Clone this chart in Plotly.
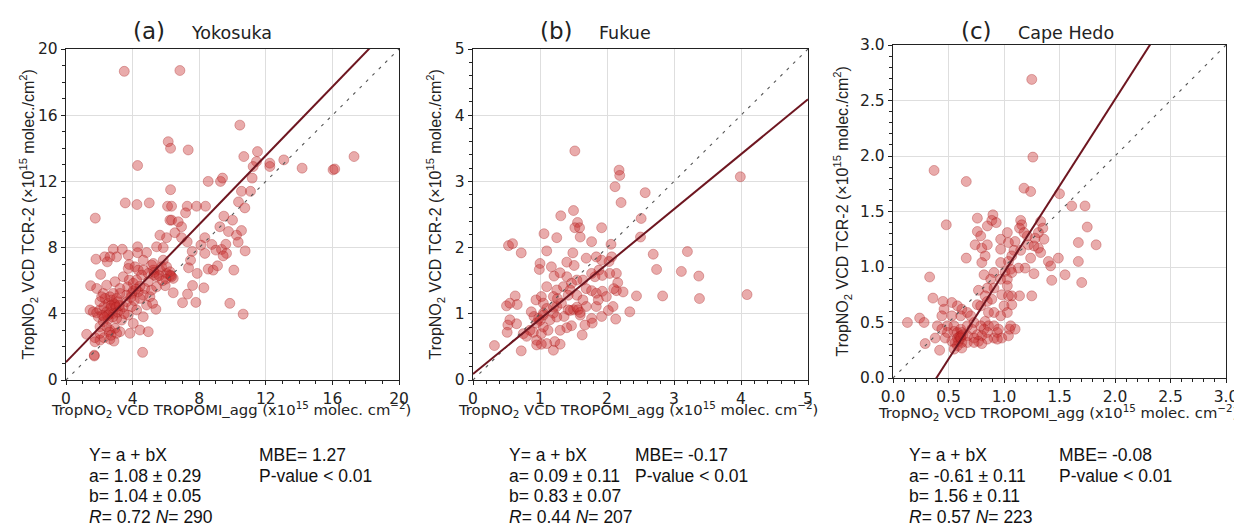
import plotly.graph_objects as go

# ---------------- data ----------------
sites = ["Yokosuka", "Fukue", "Cape Hedo"]
labels = ["(a)", "(b)", "(c)"]

xa = [3.5, 6.84, 10.44, 6.14, 6.28, 7.34, 4.3, 10.68, 11.5, 11.44, 11.24, 12.24, 12.24, 13.08, 14.18, 16.04, 16.14, 17.3,
      8.54, 9.28, 9.4, 11.18, 6.28, 11.08, 10.54, 3.56, 4.26, 5.0, 6.1, 6.34, 7.28, 7.84, 8.38, 10.36, 10.74, 1.76,
      7.18, 9.48, 10.0, 6.24, 6.34, 6.74, 6.94, 6.54, 5.64, 9.24, 9.76, 10.54, 10.24, 8.34, 6.94, 7.28, 7.58, 8.1,
      8.76, 9.0, 9.34, 9.6, 9.64, 9.44, 10.34, 10.76, 6.04, 5.44, 5.84, 8.34, 7.48, 7.36, 7.88, 8.54, 8.84, 9.1,
      10.08, 7.0, 7.8, 8.28, 7.6, 7.3, 6.44, 5.4, 9.84, 10.64, 4.6, 1.7, 1.8, 2.32, 2.84, 2.64, 3.04, 3.38, 3.74,
      4.3, 4.3, 4.84, 3.8, 4.14, 4.64, 4.64, 5.24, 5.28, 5.64, 5.44, 6.04, 6.24, 6.44, 5.84, 5.14, 4.94, 5.44, 5.96,
      4.74, 2.08, 1.48, 1.84, 2.24, 2.44, 2.94, 3.44, 3.24, 3.7, 4.04, 4.34, 4.44, 4.64, 5.04, 4.84, 5.2, 1.44,
      1.64, 1.84, 2.04, 1.94, 2.28, 2.54, 2.74, 2.94, 2.44, 2.68, 2.84, 3.14, 3.24, 3.44, 3.64, 3.94, 4.24, 3.74,
      3.34, 3.04, 2.54, 2.24, 2.04, 2.44, 2.64, 2.94, 3.24, 3.84, 4.04, 4.44, 4.94, 4.64, 1.24, 1.74, 2.04, 2.28,
      2.64, 2.88, 3.04, 2.04, 1.74, 2.48, 3.74, 4.34, 4.54, 4.94, 5.24, 5.74, 6.04, 6.24, 6.34, 3.8, 4.04, 4.24,
      4.44, 5.14, 3.94, 3.64, 3.24, 2.84, 2.64, 3.04, 2.34, 2.04, 2.14, 2.7, 2.9, 3.0, 2.6, 2.5, 2.8, 3.1, 2.2,
      2.3, 6.3, 2.6, 2.7, 1.7, 3.2, 3.5, 3.9, 4.1, 4.2, 5.3, 5.6, 6.0, 5.8]
ya = [18.65, 18.7, 15.4, 14.4, 14.0, 13.9, 12.96, 13.5, 13.8, 13.2, 12.9, 13.1, 12.9, 13.3, 12.8, 12.7, 12.75, 13.5,
      12.0, 12.0, 12.2, 12.2, 11.5, 11.4, 11.4, 10.7, 10.6, 10.7, 10.5, 10.5, 10.5, 10.5, 10.5, 10.76, 10.4, 9.78,
      10.1, 9.9, 9.66, 9.66, 9.66, 9.56, 9.26, 8.9, 8.75, 9.26, 8.97, 9.03, 8.75, 8.6, 8.6, 8.35, 7.77, 8.15,
      8.19, 7.85, 7.89, 8.2, 7.65, 7.5, 8.33, 7.8, 8.6, 8.05, 8.0, 7.65, 7.24, 6.78, 6.44, 6.7, 6.64, 6.9,
      6.64, 4.67, 4.69, 5.57, 5.71, 5.19, 5.27, 4.27, 4.63, 3.98, 1.67, 1.5, 7.3, 7.44, 7.9, 7.44, 7.44, 7.9, 7.54,
      8.05, 7.69, 7.7, 6.98, 6.84, 7.24, 6.64, 6.64, 6.34, 6.64, 6.24, 6.44, 6.34, 6.14, 7.24, 6.94, 5.94, 5.63, 5.7,
      5.53, 6.38, 5.7, 5.53, 5.23, 5.73, 5.94, 6.24, 5.53, 5.63, 5.39, 5.33, 4.93, 5.13, 5.03, 4.53, 4.63, 4.23,
      4.12, 4.06, 4.23, 3.82, 4.43, 4.63, 4.83, 4.53, 4.12, 4.33, 4.02, 4.73, 4.23, 4.43, 4.73, 4.43, 4.23, 3.92,
      3.62, 3.72, 3.66, 3.52, 3.22, 3.22, 3.02, 3.12, 2.92, 2.82, 3.42, 3.02, 2.92, 3.82, 2.76, 2.56, 2.41, 2.56,
      2.46, 2.35, 2.82, 2.82, 2.31, 7.14, 6.74, 6.64, 6.34, 6.44, 7.04, 6.84, 6.84, 6.54, 6.24, 6.04, 5.84, 6.04,
      5.67, 5.43, 5.23, 5.13, 5.23, 5.23, 5.03, 4.93, 4.93, 4.73, 5.03, 4.5, 4.6, 4.4, 4.0, 3.9, 3.8, 4.1, 3.9,
      3.8, 6.3, 2.9, 2.7, 1.45, 4.5, 4.0, 5.0, 4.8, 5.5, 6.5, 6.3, 6.1, 6.0]

xb = [1.52, 2.18, 2.19, 2.12, 2.21, 2.57, 3.99, 1.31, 1.5, 1.56, 1.52, 1.59, 1.6, 1.92, 1.77, 1.06, 1.25, 2.51,
      2.5, 2.06, 0.53, 0.59, 0.72, 1.1, 1.49, 2.69, 3.2, 2.74, 3.11, 3.37, 3.38, 4.09, 2.83, 2.44, 2.34, 2.24,
      2.14, 2.14, 2.16, 2.1, 2.09, 2.13, 2.02, 2.04, 2.07, 2.03, 1.92, 1.88, 1.93, 1.82, 1.84, 1.69, 1.77, 1.64,
      1.55, 1.4, 1.35, 1.47, 1.45, 1.51, 1.4, 1.21, 1.17, 1.0, 0.99, 1.3, 1.25, 1.1, 1.26, 1.2, 1.42, 1.55, 1.64,
      1.69, 1.77, 1.84, 1.93, 1.99, 1.84, 1.87, 1.92, 1.77, 1.78, 1.67, 1.63, 1.5, 1.42, 1.57, 1.6, 1.69, 1.47,
      1.4, 1.3, 1.36, 1.25, 1.2, 1.15, 1.12, 1.22, 1.2, 1.3, 1.1, 1.02, 0.95, 0.95, 1.02, 1.05, 0.95, 0.91, 0.87,
      0.94, 1.02, 1.05, 1.1, 1.05, 0.98, 0.85, 0.75, 0.8, 0.72, 0.65, 0.55, 0.52, 0.51, 0.5, 0.55, 0.63, 0.66,
      0.32, 1.32, 1.0, 1.05, 0.9, 1.2, 1.25, 1.45, 1.55, 1.6]
yb = [3.46, 3.17, 3.09, 2.92, 2.68, 2.83, 3.07, 2.48, 2.56, 2.38, 2.3, 2.3, 2.16, 2.3, 2.09, 2.21, 2.15, 2.44,
      2.16, 2.05, 2.03, 2.06, 1.92, 1.95, 1.92, 1.9, 1.94, 1.67, 1.64, 1.57, 1.23, 1.29, 1.27, 1.27, 1.03, 1.33,
      1.35, 1.61, 1.47, 1.38, 1.11, 0.92, 1.05, 1.61, 1.86, 1.79, 1.81, 1.66, 1.58, 1.56, 1.86, 1.84, 1.61, 1.51,
      1.51, 1.56, 1.41, 1.46, 1.36, 1.73, 1.78, 1.57, 1.71, 1.76, 1.67, 1.62, 1.36, 1.41, 1.23, 1.26, 1.28, 1.28, 1.21,
      1.38, 1.35, 1.31, 1.34, 1.26, 1.11, 1.21, 0.96, 0.93, 0.86, 0.83, 0.68, 1.06, 1.06, 1.06, 0.98, 1.11, 0.82,
      0.79, 0.75, 0.96, 1.11, 1.01, 0.91, 0.75, 0.58, 0.45, 0.54, 0.55, 0.54, 0.53, 0.6, 0.7, 0.8, 0.86, 0.96, 1.03,
      1.21, 1.26, 1.16, 1.08, 1.01, 0.93, 0.75, 0.7, 0.66, 0.44, 0.85, 0.91, 0.83, 0.72, 1.12, 1.16, 1.27, 1.14,
      0.52, 1.16, 0.9, 0.98, 0.72, 1.1, 0.95, 1.05, 1.1, 1.02]

xc = [1.25, 1.26, 0.37, 0.66, 1.18, 1.24, 1.5, 1.61, 1.73, 1.75, 1.67, 1.83, 1.67, 1.7, 1.55, 1.43, 1.49, 1.42,
      1.4, 0.48, 0.33, 0.36, 0.13, 0.24, 0.28, 0.29, 0.38, 0.42, 0.76, 0.76, 0.79, 0.74, 0.66, 0.9, 0.89, 0.93,
      0.97, 0.97, 1.03, 0.85, 0.8, 0.85, 0.83, 0.8, 1.15, 1.16, 1.14, 1.18, 1.21, 1.1, 1.04, 1.09, 1.15, 1.22,
      1.27, 1.33, 1.35, 1.31, 1.36, 1.28, 1.31, 1.33, 1.24, 1.19, 1.13, 1.07, 1.04, 1.06, 0.97, 1.01, 0.97, 1.03,
      1.07, 1.27, 1.25, 0.91, 0.88, 0.82, 0.85, 0.91, 0.77, 0.76, 0.79, 0.85, 0.83, 0.89, 0.98, 1.03, 1.07, 1.04,
      1.14, 1.07, 1.0, 1.03, 0.97, 0.91, 0.86, 0.83, 0.86, 0.91, 0.82, 0.79, 0.73, 0.7, 0.67, 0.62, 0.58, 0.61,
      0.53, 0.46, 0.45, 0.53, 0.44, 0.55, 0.49, 0.55, 0.58, 0.61, 0.67, 0.71, 0.76, 0.8, 0.85, 0.91, 0.94, 0.98,
      1.04, 1.05, 1.1, 1.06, 0.94, 0.85, 0.77, 0.73, 0.67, 0.62, 0.61, 0.58, 0.59, 0.62, 0.56, 0.53, 0.47, 0.67,
      0.73, 0.8, 0.58, 0.62, 0.55, 0.95, 0.49, 0.4, 0.44, 0.6, 0.61, 0.63]
yc = [2.69, 1.99, 1.87, 1.77, 1.71, 1.68, 1.66, 1.55, 1.55, 1.36, 1.22, 1.2, 1.05, 0.86, 0.93, 0.88, 1.08, 1.01,
      1.05, 1.38, 0.91, 0.72, 0.5, 0.54, 0.5, 0.31, 0.36, 0.25, 1.44, 1.32, 1.28, 1.2, 1.08, 1.47, 1.42, 1.4,
      1.25, 1.16, 1.31, 1.37, 1.17, 1.2, 1.1, 1.04, 1.42, 1.38, 1.35, 1.31, 1.28, 1.23, 1.22, 1.15, 1.15, 1.2,
      1.19, 1.41, 1.35, 1.31, 1.25, 1.26, 1.17, 1.13, 1.08, 0.99, 0.99, 1.1, 1.05, 0.98, 1.04, 0.96, 0.89, 0.89,
      0.95, 0.94, 0.74, 0.95, 0.89, 0.93, 0.81, 0.81, 0.79, 0.66, 0.65, 0.69, 0.74, 0.71, 0.75, 0.83, 0.74, 0.74,
      0.74, 0.66, 0.65, 0.59, 0.56, 0.59, 0.59, 0.51, 0.47, 0.47, 0.44, 0.47, 0.5, 0.56, 0.59, 0.62, 0.65, 0.56,
      0.56, 0.62, 0.69, 0.68, 0.56, 0.47, 0.47, 0.42, 0.41, 0.44, 0.47, 0.44, 0.39, 0.38, 0.41, 0.36, 0.41, 0.36,
      0.38, 0.44, 0.44, 0.47, 0.35, 0.35, 0.33, 0.36, 0.38, 0.41, 0.38, 0.36, 0.33, 0.32, 0.32, 0.33, 0.36, 0.32,
      0.32, 0.31, 0.29, 0.27, 0.26, 0.44, 0.41, 0.47, 0.44, 0.37, 0.36, 0.39]

a_coef = [1.08, 0.09, -0.61]
a_err = [0.29, 0.11, 0.11]
b_coef = [1.04, 0.83, 1.56]
b_err = [0.05, 0.07, 0.11]
r_vals = [0.72, 0.44, 0.57]
n_vals = [290, 207, 223]
mbe_vals = [1.27, -0.17, -0.08]

axis_max = [20, 5, 3.0]
major_step = [4, 1, 0.5]
minor_step = [1, 0.2, 0.1]
tick_fmt = ["d", "d", ".1f"]

# ---------------- layout helpers ----------------
# The page body has an 8 px margin, so the figure is drawn 8 px in from the
# window's top-left corner; screen coordinates below are converted accordingly.
OFF = 8
W, H = 1242 - OFF, 525 - OFF
px_x = [(66, 399), (473, 808), (893, 1226)]
px_y = [(49, 380), (49, 380), (45, 378)]
xtitle_y = [409, 409, 412]


def fx(p):
    return (p - OFF) / W


def fy(p):
    return 1 - (p - OFF) / H


fig = go.Figure()
xs_all = [xa, xb, xc]
ys_all = [ya, yb, yc]

annotations = []
for i in range(3):
    sfx = "" if i == 0 else str(i + 1)
    xref, yref = "x" + sfx, "y" + sfx
    mx = axis_max[i]
    fig.add_trace(go.Scatter(
        x=xs_all[i], y=ys_all[i], mode="markers", xaxis=xref, yaxis=yref,
        marker=dict(size=10, color="rgba(200,45,45,0.40)",
                    line=dict(width=0.8, color="rgba(165,25,25,0.40)")),
        showlegend=False, hoverinfo="x+y"))
    # 1:1 line
    fig.add_trace(go.Scatter(
        x=[0, mx], y=[0, mx], mode="lines", xaxis=xref, yaxis=yref,
        line=dict(color="#555555", width=1.1, dash="3px,6px"), showlegend=False))
    # regression line
    fig.add_trace(go.Scatter(
        x=[0, mx], y=[a_coef[i], a_coef[i] + b_coef[i] * mx], mode="lines",
        xaxis=xref, yaxis=yref, line=dict(color="#6e1620", width=2), showlegend=False))

    common = dict(range=[0, mx], dtick=major_step[i], tick0=0, tickformat=tick_fmt[i],
                  showgrid=True, gridcolor="#dedede", gridwidth=1, zeroline=False,
                  showline=True, linecolor="#222222", linewidth=1.4, mirror=True,
                  ticks="outside", ticklen=4, tickwidth=1.2, tickcolor="#222222",
                  minor=dict(dtick=minor_step[i], tick0=0, ticks="outside", ticklen=2.5,
                             tickwidth=0.8, tickcolor="#222222", showgrid=False),
                  tickfont=dict(family="DejaVu Sans", size=15.5, color="#222222"),
                  automargin=False)
    fig.layout["xaxis" + sfx] = dict(domain=[fx(px_x[i][0]), fx(px_x[i][1])], anchor=yref, **common)
    fig.layout["yaxis" + sfx] = dict(domain=[fy(px_y[i][1]), fy(px_y[i][0])], anchor=xref, **common)

    x0, x1 = px_x[i]
    yc0, yc1 = px_y[i]
    # panel label and site
    annotations.append(dict(x=fx(x0 + (x1 - x0) * 0.25), y=fy(31), xref="paper", yref="paper",
                            text=labels[i], showarrow=False, xanchor="center", yanchor="middle",
                            font=dict(family="DejaVu Sans", size=23, color="#222222")))
    annotations.append(dict(x=fx(x0 + (x1 - x0) * 0.37), y=fy(33), xref="paper", yref="paper",
                            text=sites[i], showarrow=False, xanchor="left", yanchor="middle",
                            font=dict(family="DejaVu Sans", size=17.5, color="#222222")))
    # y title
    annotations.append(dict(x=fx(x0 - 38 if i < 2 else x0 - 50), y=fy((yc0 + yc1) / 2), xref="paper", yref="paper",
                            text="TropNO<sub>2</sub> VCD TCR-2 (×10<sup>15</sup> molec./cm<sup>2</sup>)",
                            textangle=-90, showarrow=False, xanchor="center", yanchor="middle",
                            font=dict(family="Liberation Sans", size=16, color="#222222")))
    # x title
    annotations.append(dict(x=fx(x0 - 17), y=fy(xtitle_y[i]), xref="paper", yref="paper",
                            text="TropNO<sub>2</sub> VCD TROPOMI_agg (x10<sup>15</sup> molec. cm<sup>−2</sup>)",
                            showarrow=False, xanchor="left", yanchor="middle",
                            font=dict(family="DejaVu Sans", size=14.8, color="#222222")))
    # stats
    left = [87, 507, 907][i]
    right = [257, 633, 1057][i]
    stat_lines = ["Y= a + bX",
                  f"a= {a_coef[i]:.2f} ± {a_err[i]:.2f}",
                  f"b= {b_coef[i]:.2f} ± {b_err[i]:.2f}",
                  f"<i>R</i>= {r_vals[i]:.2f} <i>N</i>= {n_vals[i]}"]
    for k, t in enumerate(stat_lines):
        annotations.append(dict(x=fx(left), y=fy(455 + 20.7 * k), xref="paper", yref="paper", text=t,
                                showarrow=False, xanchor="left", yanchor="middle",
                                font=dict(family="Liberation Sans", size=17.5, color="#111111")))
    for k, t in enumerate([f"MBE= {mbe_vals[i]:.2f}", "P-value < 0.01"]):
        annotations.append(dict(x=fx(right), y=fy(455 + 20.7 * k), xref="paper", yref="paper", text=t,
                                showarrow=False, xanchor="left", yanchor="middle",
                                font=dict(family="Liberation Sans", size=17.5, color="#111111")))

fig.update_layout(width=W, height=H, margin=dict(l=0, r=0, t=0, b=0, autoexpand=False),
                  paper_bgcolor="white", plot_bgcolor="white", annotations=annotations)
fig.write_html("out.html")
